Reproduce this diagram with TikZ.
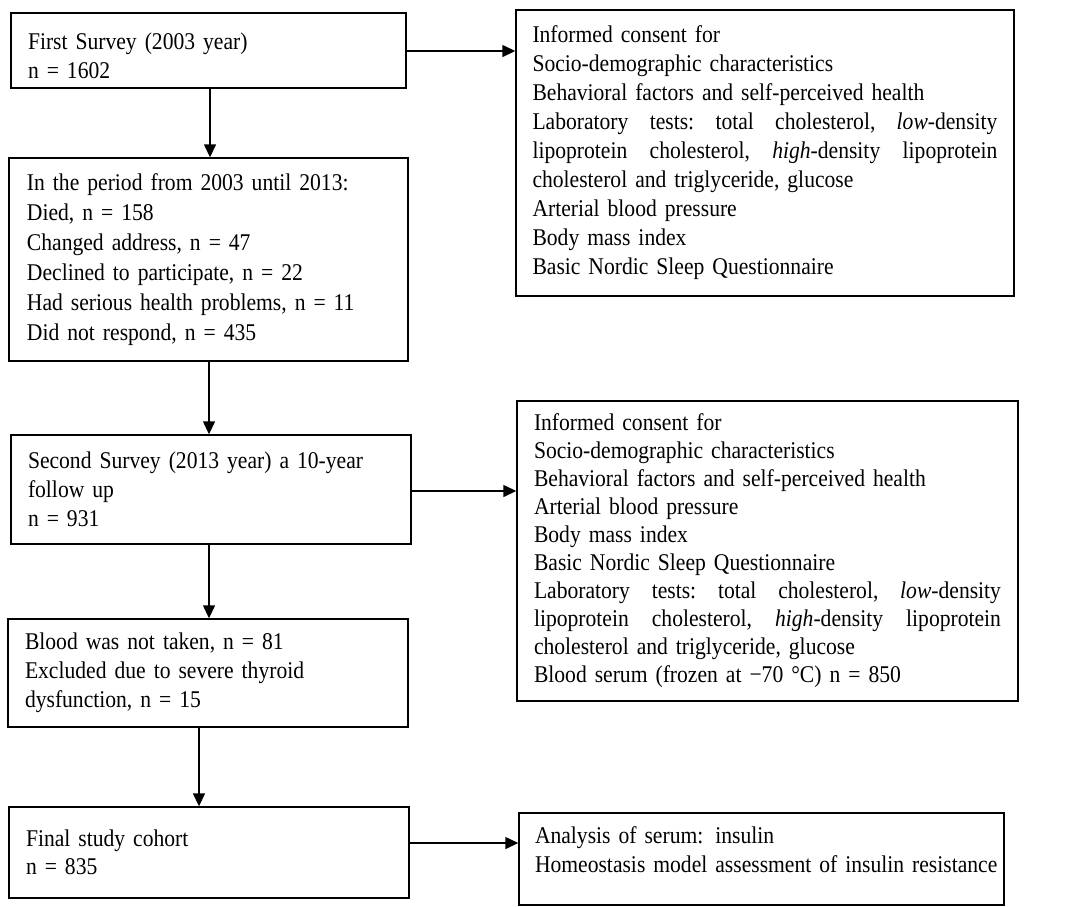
\documentclass[tikz,border=0pt]{standalone}
\usepackage{fontspec}
\setmainfont{Liberation Serif}[FakeStretch=0.9,WordSpace=0.65]
\usetikzlibrary{arrows.meta}
\tikzset{
  box/.style={draw, line width=1.4pt, align=left, inner ysep=0pt, anchor=center},
  fs29/.style={font=\fontsize{24}{29}\selectfont},
  fs30/.style={font=\fontsize{24}{30}\selectfont},
  fs28/.style={font=\fontsize{24}{28}\selectfont},
  arr/.style={line width=1.4pt, -{Triangle[length=13pt,width=12pt]}}
}
\newcommand{\jline}[2]{\leavevmode\hbox to #1{#2}}
\begin{document}
\begin{tikzpicture}[x=1pt,y=-1pt]
\useasboundingbox (0,0) rectangle (1084,906);
% left column
\node[box, fs29, minimum width=395pt, minimum height=75pt, text width=361pt, inner xsep=17pt] (A) at (208.5,50.5)
  {\rule{0pt}{28pt}First Survey (2003 year)\\ n = 1602};
\node[box, fs30, minimum width=399pt, minimum height=203pt, text width=363pt, inner xsep=18pt] (B) at (208.5,259.5)
  {In the period from 2003 until 2013:\\ Died, n = 158\\ Changed address, n = 47\\ Declined to participate, n = 22\\ Had serious health problems, n = 11\\ Did not respond, n = 435};
\node[box, fs29, minimum width=400pt, minimum height=109pt, text width=366pt, inner xsep=17pt] (C) at (211,489.5)
  {Second Survey (2013 year) a 10-year\\ follow up\\ n = 931};
\node[box, fs29, minimum width=400pt, minimum height=108pt, text width=366pt, inner xsep=17pt] (D) at (208,673)
  {Blood was not taken, n = 81\\ Excluded due to severe thyroid\\ dysfunction, n = 15};
\node[box, fs28, minimum width=400pt, minimum height=91pt, text width=366pt, inner xsep=17pt] (E) at (209,852.5)
  {Final study cohort\\ n = 835};
% right column
\node[box, fs29, minimum width=498pt, minimum height=286pt, text width=465pt, inner xsep=16.5pt] (R1) at (765,153)
  {Informed consent for\\
   Socio-demographic characteristics\\
   Behavioral factors and self-perceived health\\
   \jline{465pt}{Laboratory\hfill tests:\hfill total\hfill cholesterol,\hfill \textit{low}-density}\\
   \jline{465pt}{lipoprotein\hfill cholesterol,\hfill \textit{high}-density\hfill lipoprotein}\\
   cholesterol and triglyceride, glucose\\
   Arterial blood pressure\\
   Body mass index\\
   Basic Nordic Sleep Questionnaire};
\node[box, fs28, minimum width=501pt, minimum height=300pt, text width=467pt, inner xsep=17pt] (R2) at (767.5,551)
  {Informed consent for\\
   Socio-demographic characteristics\\
   Behavioral factors and self-perceived health\\
   Arterial blood pressure\\
   Body mass index\\
   Basic Nordic Sleep Questionnaire\\
   \jline{467pt}{Laboratory\hfill tests:\hfill total\hfill cholesterol,\hfill \textit{low}-density}\\
   \jline{467pt}{lipoprotein\hfill cholesterol,\hfill \textit{high}-density\hfill lipoprotein}\\
   cholesterol and triglyceride, glucose\\
   Blood serum (frozen at −70 °C) n = 850};
\node[box, fs29, minimum width=485pt, minimum height=92pt, text width=453pt, inner xsep=16pt] (R3) at (761.5,859)
  {\mbox{Analysis of serum: insulin}\\ \mbox{Homeostasis model assessment of insulin resistance}\rule[-19pt]{0pt}{19pt}};
% connectors
\draw[arr] ([xshift=1.5pt]A.south) -- ([xshift=1.5pt]A.south |- B.north);
\draw[arr] ([xshift=0.5pt]B.south) -- ([xshift=0.5pt]B.south |- C.north);
\draw[arr] ([xshift=-2pt]C.south) -- ([xshift=-2pt]C.south |- D.north);
\draw[arr] ([xshift=-9pt]D.south) -- ([xshift=-9pt]D.south |- E.north);
\draw[arr] ([yshift=-0.5pt]A.east) -- ([yshift=-0.5pt]A.east -| R1.west);
\draw[arr] ([yshift=-1.5pt]C.east) -- ([yshift=-1.5pt]C.east -| R2.west);
\draw[arr] ([yshift=9.5pt]E.east) -- ([yshift=9.5pt]E.east -| R3.west);
\end{tikzpicture}
\end{document}
